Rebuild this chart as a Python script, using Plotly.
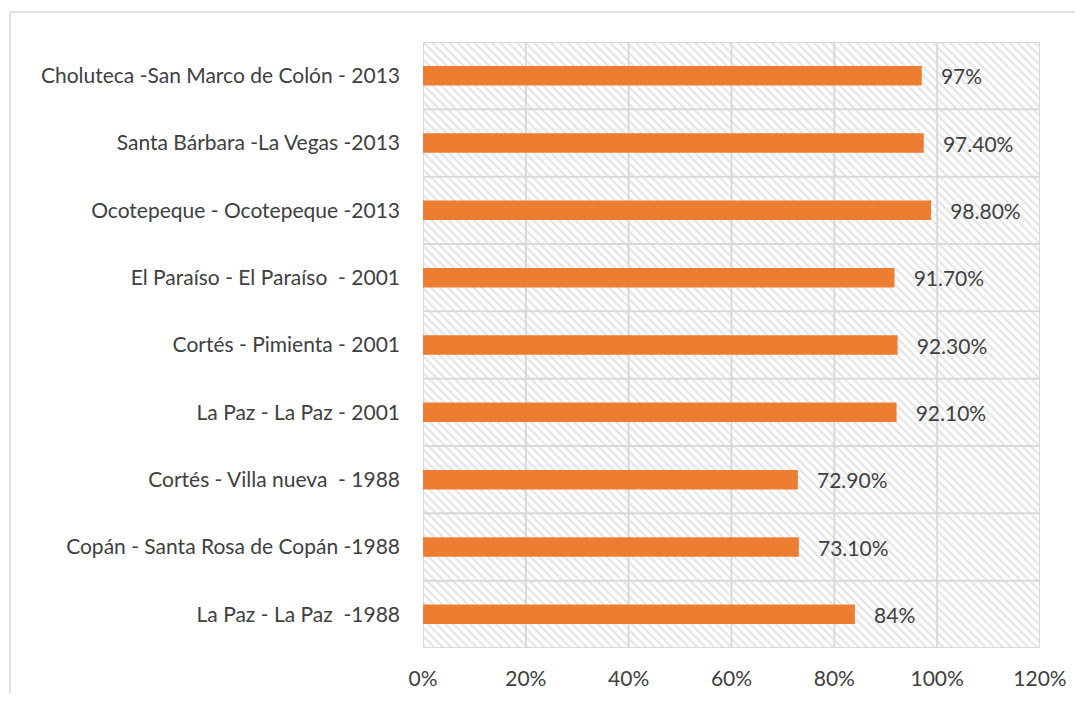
import plotly.graph_objects as go

# Data (bottom to top)
categories = [
    "La Paz - La Paz  -1988",
    "Copán - Santa Rosa de Copán -1988",
    "Cortés - Villa nueva  - 1988",
    "La Paz - La Paz - 2001",
    "Cortés - Pimienta - 2001",
    "El Paraíso - El Paraíso  - 2001",
    "Ocotepeque - Ocotepeque -2013",
    "Santa Bárbara -La Vegas -2013",
    "Choluteca -San Marco de Colón - 2013",
]
values = [0.84, 0.731, 0.729, 0.921, 0.923, 0.917, 0.988, 0.974, 0.97]
value_labels = ["84%", "73.10%", "72.90%", "92.10%", "92.30%", "91.70%", "98.80%", "97.40%", "97%"]

x_ticks = [0, 0.2, 0.4, 0.6, 0.8, 1.0, 1.2]
x_max = x_ticks[-1]

FONT = "Lato"
FS = 21
TXT = "#404040"
GRID = "#d9d9d9"

# layout geometry (figure pixels; page has an 8px body margin)
W, H = 1075, 686
L, R, T, B = 415, 43, 34, 46
PW, PH = W - L - R, H - T - B

n = len(categories)
pos = list(range(n))
y_range = [-0.5, n - 0.5]
tick_ext = 8 * x_max / PW

# gridline geometry derived from the axes
gx, gy = [], []
for t in x_ticks:
    gx += [t, t, None]
    gy += [y_range[0], y_range[1], None]
for i in range(n + 1):
    b = i - 0.5
    x0 = -tick_ext if i < n else 0
    gx += [x0, x_max, None]
    gy += [b, b, None]

fig = go.Figure()

# hatched background band per category
fig.add_trace(go.Bar(
    y=pos, x=[x_max] * n, orientation="h",
    width=1, hoverinfo="skip", showlegend=False,
    marker=dict(color="white", line=dict(width=0),
                pattern=dict(shape="\\", fgcolor="#c8c8c8", bgcolor="white",
                             size=6, solidity=0.35)),
))

# gridlines (above hatch, below bars)
fig.add_trace(go.Scatter(
    x=gx, y=gy, mode="lines", line=dict(color=GRID, width=2),
    hoverinfo="skip", showlegend=False, cliponaxis=False,
))

# data bars on overlay subplot so they sit above the gridlines
fig.add_trace(go.Bar(
    y=pos, x=values, orientation="h", width=0.29, yaxis="y2",
    marker=dict(color="#ED7D31", line=dict(width=0)),
    text=["   " + t for t in value_labels], textposition="outside",
    constraintext="none", cliponaxis=False,
    textfont=dict(family=FONT, size=FS, color=TXT),
    showlegend=False,
))

fig.update_layout(
    width=W, height=H,
    margin=dict(l=L, r=R, t=T, b=B, autoexpand=False),
    barmode="overlay",
    paper_bgcolor="white", plot_bgcolor="white",
    font=dict(family=FONT, size=FS, color=TXT),
    xaxis=dict(range=[0, x_max], tickvals=x_ticks, tickformat=".0%",
               showgrid=False, zeroline=False, showline=False, ticks="",
               ticklabelstandoff=16, automargin=False,
               tickfont=dict(family=FONT, size=FS, color=TXT)),
    yaxis=dict(range=y_range, tickvals=pos, ticktext=categories,
               showgrid=False, zeroline=False, showline=False, ticks="",
               ticklabelstandoff=22, automargin=False,
               tickfont=dict(family=FONT, size=FS, color=TXT)),
    yaxis2=dict(range=y_range, overlaying="y", visible=False,
                showgrid=False, zeroline=False),
    shapes=[
        dict(type="line", xref="paper", yref="paper",
             x0=(2 - L) / PW, x1=(W - L) / PW,
             y0=(PH + T - 4) / PH, y1=(PH + T - 4) / PH,
             line=dict(color=GRID, width=1.5)),
        dict(type="line", xref="paper", yref="paper",
             x0=(2 - L) / PW, x1=(2 - L) / PW,
             y0=(PH + T - 4) / PH, y1=-B / PH,
             line=dict(color=GRID, width=1.5)),
    ],
)

fig.write_html("out.html")
